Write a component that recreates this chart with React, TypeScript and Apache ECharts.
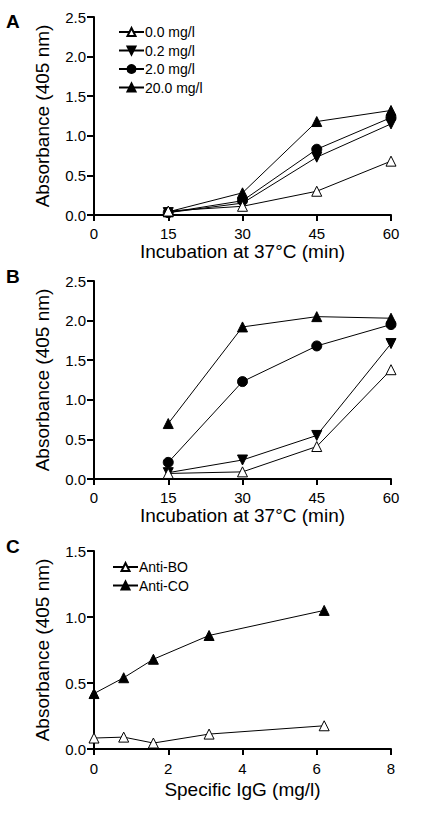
import React, { useEffect, useRef } from "react";
import * as echarts from "echarts";

const timeCategories = [15, 30, 45, 60];
const concLabels = ["0.0 mg/l", "0.2 mg/l", "2.0 mg/l", "20.0 mg/l"];
const panelA_00 = [0.05, 0.11, 0.3, 0.68];
const panelA_02 = [0.03, 0.15, 0.73, 1.15];
const panelA_20 = [0.03, 0.18, 0.83, 1.23];
const panelA_200 = [0.04, 0.28, 1.18, 1.32];
const panelB_00 = [0.07, 0.09, 0.41, 1.38];
const panelB_02 = [0.08, 0.24, 0.55, 1.71];
const panelB_20 = [0.21, 1.23, 1.68, 1.95];
const panelB_200 = [0.7, 1.92, 2.05, 2.03];
const igg = [0, 0.8, 1.6, 3.1, 6.2];
const antiLabels = ["Anti-BO", "Anti-CO"];
const antiBO = [0.083, 0.09, 0.045, 0.113, 0.176];
const antiCO = [0.42, 0.54, 0.68, 0.86, 1.05];

const FONT = "Liberation Sans, Arial, sans-serif";

const symbolStyles = [
  { symbol: "triangle", rotate: 0, fill: "#ffffff" },
  { symbol: "triangle", rotate: 180, fill: "#000000" },
  { symbol: "circle", rotate: 0, fill: "#000000" },
  { symbol: "triangle", rotate: 0, fill: "#000000" },
];

function mkSeries(name: string, xs: number[], ys: number[], style: any, gi: number, z: number) {
  return {
    type: "line",
    name,
    xAxisIndex: gi,
    yAxisIndex: gi,
    data: xs.map((x, i) => [x, ys[i]]),
    symbol: style.symbol,
    symbolRotate: style.rotate,
    symbolSize: 10,
    z,
    lineStyle: { color: "#000", width: 1 },
    itemStyle: { color: style.fill, borderColor: "#000", borderWidth: 1 },
  };
}

function axisCommon(margin: number, tickLen: number) {
  return {
    axisLine: { show: true, lineStyle: { color: "#000", width: 2 } },
    axisTick: { show: true, length: tickLen, lineStyle: { color: "#000", width: 2 } },
    splitLine: { show: false },
    axisLabel: { color: "#000", fontSize: 15, fontFamily: FONT, margin },
    nameTextStyle: { color: "#000", fontSize: 19, fontFamily: FONT },
  };
}

export default function App() {
  const ref = useRef<HTMLDivElement>(null);
  useEffect(() => {
    if (!ref.current) return;
    const chart = echarts.init(ref.current, undefined, { renderer: "svg" });
    const grids = [
      { left: 94, right: 43, top: 17, height: 198 },
      { left: 94, right: 43, top: 281, height: 198 },
      { left: 94, right: 43, top: 551, height: 198 },
    ];
    const xAxes: any[] = [0, 1].map((gi) => ({
      ...axisCommon(11, 6),
      type: "value",
      gridIndex: gi,
      min: 0,
      max: 60,
      interval: 15,
      name: "Incubation at 37°C (min)",
      nameLocation: "middle",
      nameGap: 21,
    }));
    xAxes.push({
      ...axisCommon(12, 6),
      type: "value",
      gridIndex: 2,
      min: 0,
      max: 8,
      interval: 2,
      name: "Specific IgG (mg/l)",
      nameLocation: "middle",
      nameGap: 31,
    });
    const yFmt = (v: number) => v.toFixed(1);
    const yAxes: any[] = [0, 1].map((gi) => ({
      ...axisCommon(8, 7),
      type: "value",
      gridIndex: gi,
      min: 0,
      max: 2.5,
      interval: 0.5,
      axisLabel: { ...axisCommon(8, 7).axisLabel, formatter: yFmt },
      name: "Absorbance (405 nm)",
      nameLocation: "middle",
      nameGap: 42,
    }));
    yAxes.push({
      ...axisCommon(8, 7),
      type: "value",
      gridIndex: 2,
      min: 0,
      max: 1.5,
      interval: 0.5,
      axisLabel: { ...axisCommon(8, 7).axisLabel, formatter: yFmt },
      name: "Absorbance (405 nm)",
      nameLocation: "middle",
      nameGap: 42,
    });

    const aData = [panelA_00, panelA_02, panelA_20, panelA_200];
    const bData = [panelB_00, panelB_02, panelB_20, panelB_200];
    const series: any[] = [];
    aData.forEach((d, i) => series.push(mkSeries(concLabels[i], timeCategories, d, symbolStyles[i], 0, 10 - i)));
    bData.forEach((d, i) => series.push(mkSeries(concLabels[i] + " ", timeCategories, d, symbolStyles[i], 1, 10 - i)));
    series.push(mkSeries(antiLabels[0], igg, antiBO, symbolStyles[0], 2, 10));
    series.push(mkSeries(antiLabels[1], igg, antiCO, symbolStyles[3], 2, 9));

    const legendCommon = {
      orient: "vertical",
      itemWidth: 25,
      itemHeight: 10,
      itemGap: 4.5,
      textStyle: { color: "#000", fontSize: 14, fontFamily: FONT, padding: [0, 0, 0, -4] },
      selectedMode: false,
      padding: 0,
    };

    chart.setOption({
      animation: false,
      backgroundColor: "#fff",
      grid: grids,
      xAxis: xAxes,
      yAxis: yAxes,
      legend: [
        { ...legendCommon, left: 118, top: 25, data: concLabels },
        { ...legendCommon, left: 112, top: 560, data: antiLabels },
      ],
      series,
      graphic: [
        { type: "text", left: 6, top: 12, style: { text: "A", fontSize: 19, fontWeight: "bold", fontFamily: FONT, fill: "#000" } },
        { type: "text", left: 6, top: 267, style: { text: "B", fontSize: 19, fontWeight: "bold", fontFamily: FONT, fill: "#000" } },
        { type: "text", left: 6, top: 537, style: { text: "C", fontSize: 19, fontWeight: "bold", fontFamily: FONT, fill: "#000" } },
      ],
    });
    return () => chart.dispose();
  }, []);
  return <div ref={ref} style={{ position: "absolute", left: 0, top: 0, width: 434, height: 829 }} />;
}
